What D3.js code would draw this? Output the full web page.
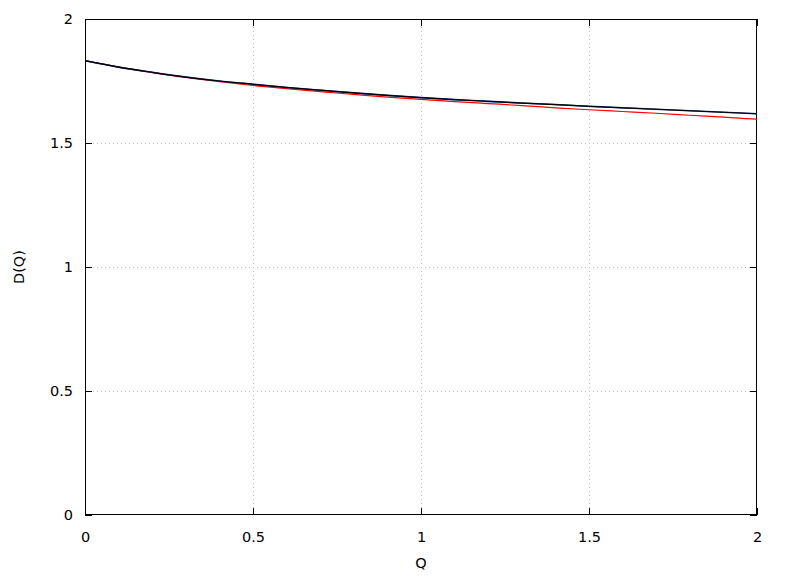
<!DOCTYPE html>
<html><head><meta charset="utf-8">
<script src="https://cdn.jsdelivr.net/npm/d3@7"></script>
<style>body{margin:0;background:#fff}svg{display:block}text{font-family:"DejaVu Sans",sans-serif;font-size:14.5px;fill:#000}</style>
</head><body><svg id="c" width="788" height="576"></svg>
<script>
const qValues = [0,0.1,0.2,0.3,0.4,0.5,0.6,0.7,0.8,0.9,1.0,1.1,1.2,1.3,1.4,1.5,1.6,1.7,1.8,1.9,2.0];
const redSeries   = [1.832,1.806,1.784,1.764,1.747,1.732,1.719,1.707,1.696,1.685,1.676,1.667,1.659,1.651,1.642,1.634,1.627,1.620,1.612,1.604,1.596];
const blueSeries  = [1.832,1.806,1.785,1.766,1.750,1.737,1.724,1.713,1.702,1.692,1.683,1.675,1.668,1.661,1.655,1.648,1.642,1.636,1.630,1.624,1.618];
const blackSeries = [1.832,1.806,1.785,1.766,1.750,1.737,1.724,1.713,1.702,1.692,1.683,1.675,1.668,1.661,1.655,1.648,1.642,1.636,1.630,1.624,1.618];
const xTicks = [0,0.5,1,1.5,2];
const yTicks = [0,0.5,1,1.5,2];
const xLabel = "Q", yLabel = "D(Q)";

const svg = d3.select("#c");
const L=85, R=757, T=19, B=515;
const x = d3.scaleLinear().domain([0,2]).range([L,R]);
const y = d3.scaleLinear().domain([0,2]).range([B,T]);

const g = svg.append("g");
xTicks.forEach(t=>{ if(t>0&&t<2) g.append("line").attr("x1",x(t)).attr("x2",x(t)).attr("y1",T).attr("y2",B)
  .attr("stroke","#c0c0c0").attr("stroke-width",1).attr("stroke-dasharray","1,3").attr("shape-rendering","crispEdges"); });
yTicks.forEach(t=>{ if(t>0&&t<2) g.append("line").attr("x1",L).attr("x2",R).attr("y1",y(t)).attr("y2",y(t))
  .attr("stroke","#c0c0c0").attr("stroke-width",1).attr("stroke-dasharray","1,3").attr("shape-rendering","crispEdges"); });

const fmt = d => d3.format("")(d);
const axB = svg.append("g").attr("transform",`translate(0,${B})`).call(d3.axisBottom(x).tickValues(xTicks).tickSize(-7).tickPadding(17).tickFormat(fmt));
const axT = svg.append("g").attr("transform",`translate(0,${T})`).call(d3.axisTop(x).tickValues(xTicks).tickSize(-7).tickFormat(""));
const axL = svg.append("g").attr("transform",`translate(${L},0)`).call(d3.axisLeft(y).tickValues(yTicks).tickSize(-7).tickPadding(12).tickFormat(fmt));
const axR = svg.append("g").attr("transform",`translate(${R},0)`).call(d3.axisRight(y).tickValues(yTicks).tickSize(-7).tickFormat(""));
[axB,axT,axL,axR].forEach(a=>{ a.select(".domain").remove(); a.selectAll("line").attr("stroke","#000").attr("shape-rendering","crispEdges");
  a.selectAll("text").attr("font-family","DejaVu Sans, sans-serif").attr("font-size",14.5).attr("fill","#000"); });
svg.append("rect").attr("x",L+0.5).attr("y",T+0.5).attr("width",R-L-1).attr("height",B-T-1)
  .attr("fill","none").attr("stroke","#000").attr("stroke-width",1);

const line = vals => d3.line().x((d,i)=>x(qValues[i])).y(d=>y(d)).curve(d3.curveMonotoneX)(vals);
svg.append("path").attr("d",line(redSeries)).attr("fill","none").attr("stroke","#ff0000").attr("stroke-width",1.2);
svg.append("path").attr("d",line(blueSeries)).attr("fill","none").attr("stroke","#1a3a8a").attr("stroke-width",1.6);
svg.append("path").attr("d",line(blackSeries)).attr("fill","none").attr("stroke","#000").attr("stroke-width",1.2);

svg.append("text").attr("x",(L+R)/2).attr("y",568).attr("text-anchor","middle").text(xLabel);
svg.append("text").attr("transform",`translate(24,${(T+B)/2}) rotate(-90)`).attr("text-anchor","middle").text(yLabel);
</script></body></html>
